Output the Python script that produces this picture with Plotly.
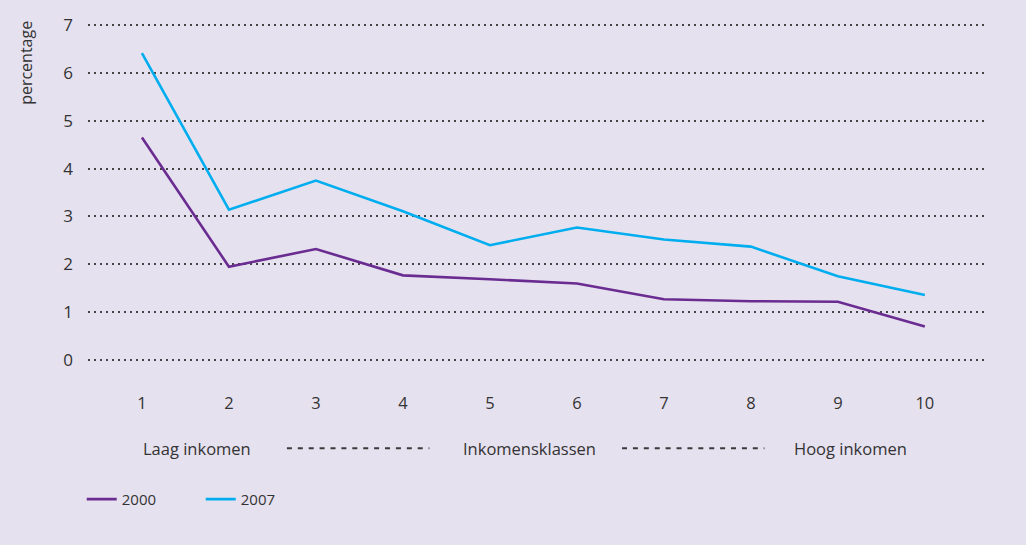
import plotly.graph_objects as go

# Income classes (deciles) and share per year, in percent
klassen = [1, 2, 3, 4, 5, 6, 7, 8, 9, 10]
waarden_2000 = [4.65, 1.95, 2.32, 1.77, 1.69, 1.60, 1.27, 1.23, 1.22, 0.70]
waarden_2007 = [6.41, 3.14, 3.75, 3.11, 2.40, 2.77, 2.52, 2.37, 1.75, 1.36]

y_ticks = [0, 1, 2, 3, 4, 5, 6, 7]

# Labels under the axis, joined by dashed connectors
klasse_labels = ["Laag inkomen", "Inkomensklassen", "Hoog inkomen"]
klasse_label_x = [1.63, 5.45, 9.15]
connector_x = [(0.222, 0.381), (0.596, 0.755)]

BG = "#e6e1ef"
TXT = "#333333"
FONT = "Open Sans"

fig = go.Figure()
fig.add_trace(go.Scatter(
    x=klassen, y=waarden_2000, name="2000", mode="lines",
    line=dict(color="#6a2c91", width=2.6),
))
fig.add_trace(go.Scatter(
    x=klassen, y=waarden_2007, name="2007", mode="lines",
    line=dict(color="#00aeef", width=2.6),
))

annotations = [
    dict(text="percentage", textangle=-90, xref="paper", yref="paper",
         x=-0.07, y=1.01, xanchor="center", yanchor="top",
         showarrow=False, font=dict(size=16, color=TXT, family=FONT)),
]
for lab, xv in zip(klasse_labels, klasse_label_x):
    annotations.append(dict(text=lab, xref="x", yref="paper", x=xv, y=-0.25,
                            xanchor="center", yanchor="middle", showarrow=False,
                            font=dict(size=16.5, color=TXT, family=FONT)))

shapes = [
    dict(type="line", xref="paper", yref="paper", x0=a, x1=b, y0=-0.25, y1=-0.25,
         line=dict(color="#3a3a3a", width=1.8, dash="5px,5.9px"))
    for a, b in connector_x
]

fig.update_layout(
    width=1026, height=545,
    margin=dict(l=88, r=42, t=22, b=182),
    paper_bgcolor=BG, plot_bgcolor=BG,
    font=dict(family=FONT, color=TXT, size=16),
    showlegend=True,
    legend=dict(orientation="h", x=-0.007, y=-0.40, xanchor="left", yanchor="middle",
                bgcolor="rgba(0,0,0,0)", font=dict(size=15, color=TXT, family=FONT),
                entrywidth=74, entrywidthmode="pixels"),
    xaxis=dict(range=[0.38, 10.68], tickmode="array", tickvals=klassen,
               ticktext=[str(k) for k in klassen], showgrid=False, zeroline=False,
               showline=False, ticks="", ticklabelstandoff=28,
               tickfont=dict(size=16.5, color=TXT, family=FONT), fixedrange=True),
    yaxis=dict(range=[-0.06, 7.06], tickmode="array", tickvals=y_ticks, showgrid=True,
               gridcolor="#444444", griddash="2px,4px", gridwidth=1.5, zeroline=False,
               showline=False, ticks="", ticklabelstandoff=14,
               tickfont=dict(size=17, color=TXT, family=FONT), fixedrange=True),
    annotations=annotations,
    shapes=shapes,
)

fig.write_html("out.html")
